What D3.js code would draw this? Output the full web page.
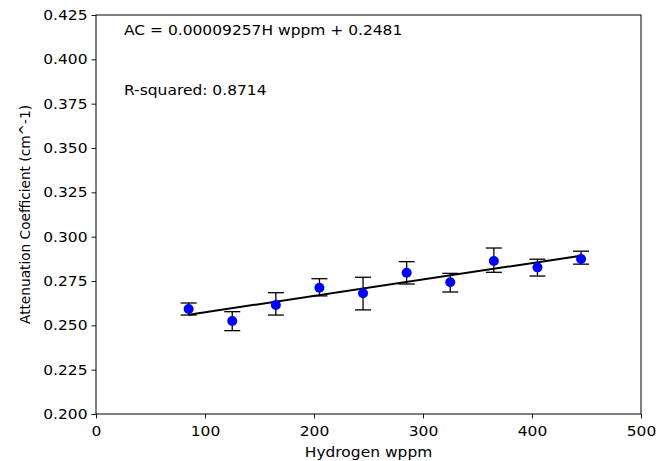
<!DOCTYPE html>
<html>
<head>
<meta charset="utf-8">
<script src="https://cdn.jsdelivr.net/npm/d3@7"></script>
<style>
  html, body { margin: 0; padding: 0; background: #fff; }
  svg { display: block; font-family: "DejaVu Sans", sans-serif; }
</style>
</head>
<body>
<svg id="chart" width="659" height="461"></svg>
<script>
// Hydrogen content (wppm) and measured attenuation coefficient (cm^-1)
const hydrogen = [85, 125, 165, 205, 245, 285, 325, 365, 405, 445];
const attenuation = [0.2592, 0.2524, 0.2615, 0.2712, 0.2681, 0.2797, 0.2743, 0.2863, 0.2827, 0.2874];
const errorLow  = [0.0034, 0.0054, 0.0057, 0.0046, 0.0094, 0.0064, 0.0055, 0.0064, 0.0049, 0.0029];
const errorHigh = [0.0034, 0.0053, 0.0069, 0.0051, 0.0090, 0.0062, 0.0050, 0.0073, 0.0046, 0.0044];

// Linear fit parameters
const slope = 0.00009257;
const intercept = 0.2481;
const rSquared = 0.8714;

const xTicks = [0, 100, 200, 300, 400, 500];
const yTicks = [0.200, 0.225, 0.250, 0.275, 0.300, 0.325, 0.350, 0.375, 0.400, 0.425];

const margin = { left: 96, right: 18, top: 15, bottom: 47 };
const width = 659, height = 461;
const fontSize = 13.7;
const stretch = 1.13; // horizontal text stretch
const svg = d3.select("#chart");

const x = d3.scaleLinear().domain([0, 500]).range([margin.left, width - margin.right]);
const y = d3.scaleLinear().domain([0.2, 0.425]).range([height - margin.bottom, margin.top]);

// Horizontal text helper
function label(px, py, str, anchor) {
  return svg.append("text")
    .attr("transform", `translate(${px},${py}) scale(${stretch},1)`)
    .attr("text-anchor", anchor || "start")
    .attr("font-size", fontSize)
    .attr("fill", "#000")
    .text(str);
}

// Axes
const xAxis = svg.append("g")
  .attr("transform", `translate(0,${y(0.2)})`)
  .call(d3.axisBottom(x).tickValues(xTicks).tickFormat(d3.format("d")).tickSizeOuter(0).tickSize(4.5).tickPadding(4));
const yAxis = svg.append("g")
  .attr("transform", `translate(${x(0)},0)`)
  .call(d3.axisLeft(y).tickValues(yTicks).tickFormat(d3.format(".3f")).tickSizeOuter(0).tickSize(4.5).tickPadding(3));

[xAxis, yAxis].forEach(g => {
  g.select(".domain").remove();
  g.selectAll("line").attr("stroke", "#000").attr("stroke-width", 0.9);
  g.selectAll("text").attr("fill", "#000").attr("font-size", fontSize)
    .attr("font-family", "DejaVu Sans, sans-serif")
    .attr("transform", `scale(${stretch},1)`);
});
xAxis.selectAll("text").attr("dy", "0.75em").attr("y", 12);

// Frame
svg.append("rect")
  .attr("x", x(0)).attr("y", y(0.425))
  .attr("width", x(500) - x(0)).attr("height", y(0.2) - y(0.425))
  .attr("fill", "none").attr("stroke", "#000").attr("stroke-width", 1);

// Fit line across the data range
const xFit = d3.extent(hydrogen);
svg.append("path")
  .datum(xFit)
  .attr("d", d3.line().x(d => x(d)).y(d => y(slope * d + intercept)))
  .attr("stroke", "#000").attr("stroke-width", 2).attr("fill", "none");

// Error bars
const pts = hydrogen.map((h, i) => ({ h, v: attenuation[i], lo: attenuation[i] - errorLow[i], hi: attenuation[i] + errorHigh[i] }));
const eb = svg.append("g").attr("stroke", "#000").attr("stroke-width", 1.3);
const cap = 8;
pts.forEach(p => {
  eb.append("line").attr("x1", x(p.h)).attr("x2", x(p.h)).attr("y1", y(p.lo)).attr("y2", y(p.hi));
  eb.append("line").attr("x1", x(p.h) - cap).attr("x2", x(p.h) + cap).attr("y1", y(p.lo)).attr("y2", y(p.lo));
  eb.append("line").attr("x1", x(p.h) - cap).attr("x2", x(p.h) + cap).attr("y1", y(p.hi)).attr("y2", y(p.hi));
});

// Data points
svg.append("g").selectAll("circle").data(pts).join("circle")
  .attr("cx", d => x(d.h)).attr("cy", d => y(d.v)).attr("r", 5)
  .attr("fill", "#0000ff");

// Annotations
label(124, 35, `AC = ${slope.toFixed(8)}H wppm + ${intercept}`);
label(124, 95, `R-squared: ${rSquared}`);

// Axis titles
label((x(0) + x(500)) / 2, 457, "Hydrogen wppm", "middle");
svg.append("text")
  .attr("transform", `translate(30,${(y(0.2) + y(0.425)) / 2}) rotate(-90)`)
  .attr("text-anchor", "middle").attr("font-size", fontSize).text("Attenuation Coefficient (cm^-1)");
</script>
</body>
</html>
